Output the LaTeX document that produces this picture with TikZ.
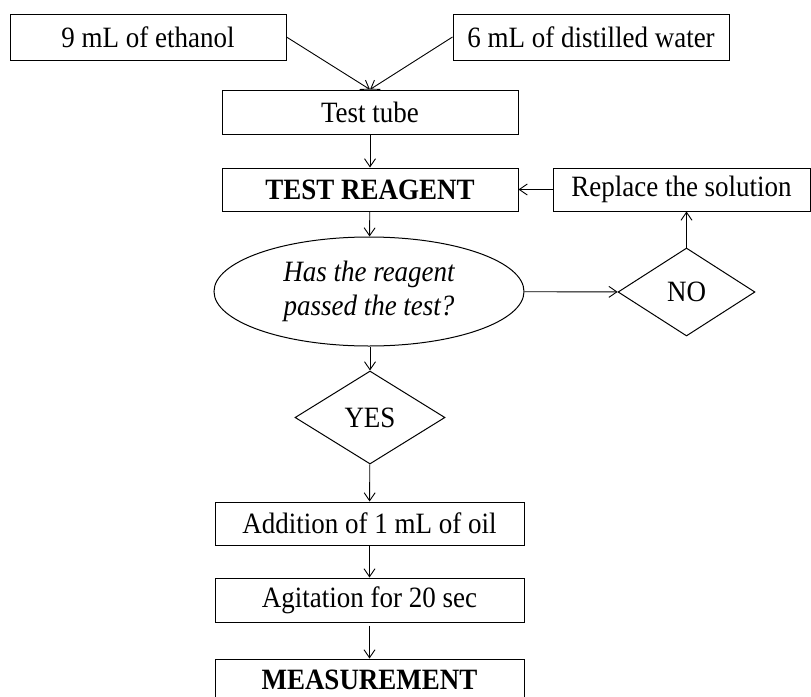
\documentclass[tikz,border=0pt]{standalone}
\usepackage{fontspec}
\setmainfont{Liberation Serif}[FakeStretch=0.915]
\usetikzlibrary{shapes.geometric,arrows.meta}
\begin{document}
\begin{tikzpicture}[x=1pt,y=-1pt,
  every node/.style={font=\fontsize{29.5}{34}\selectfont, inner sep=0pt, line width=1pt},
  box/.style={draw, rectangle, minimum width=#1, minimum height=44pt},
  dia/.style={draw, diamond},
  arr/.style={line width=0.9pt, -{Straight Barb[length=8pt,width=11pt,line width=0.9pt]}}]
\useasboundingbox (0,0) rectangle (811,696);
\clip (0,0) rectangle (811,696);
\node[box=276pt, minimum height=46pt] (eth) at (148,37) {9 mL of ethanol};
\node[box=276pt, minimum height=46pt] (water) at (591,37) {6 mL of distilled water};
\node[box=296pt] (tube) at (370,112) {Test tube};
\node[box=296pt, minimum height=43pt] (reagent) at (370,189.5) {\textbf{TEST REAGENT}};
\node[box=257pt, minimum height=43pt] (replace) at (681.5,189.5) {Replace the solution};
\node[draw, ellipse, minimum width=310pt, minimum height=109pt, align=center] (question) at (369,291.5) {\itshape Has the reagent\\\itshape passed the test?};
\node[dia, minimum width=137pt, minimum height=88pt] (no) at (686.5,292) {NO};
\node[dia, minimum width=150pt, minimum height=93pt] (yes) at (370,417.5) {YES};
\node[box=309pt, minimum height=43pt] (oil) at (369.5,523.5) {Addition of 1 mL of oil};
\node[box=309pt, minimum height=44pt] (agit) at (369.5,600) {Agitation for 20 sec};
\node[box=309pt, minimum height=42pt] (meas) at (369.5,680) {\textbf{MEASUREMENT}};
\draw[arr] (eth.east) -- (tube.north);
\draw[arr] (water.west) -- (tube.north);
\draw[arr] (tube) -- (reagent);
\draw[arr] (reagent) -- (question);
\draw[arr] (replace) -- (reagent);
\draw[arr] (question) -- (no);
\draw[arr] (no.north) -- (no.north |- replace.south);
\draw[arr] (question.south -| yes.north) -- (yes.north);
\draw[arr] (yes) -- (oil);
\draw[arr] (oil) -- (agit);
\draw[arr] ([yshift=-3pt]agit.south) -- (meas.north);
\end{tikzpicture}
\end{document}
